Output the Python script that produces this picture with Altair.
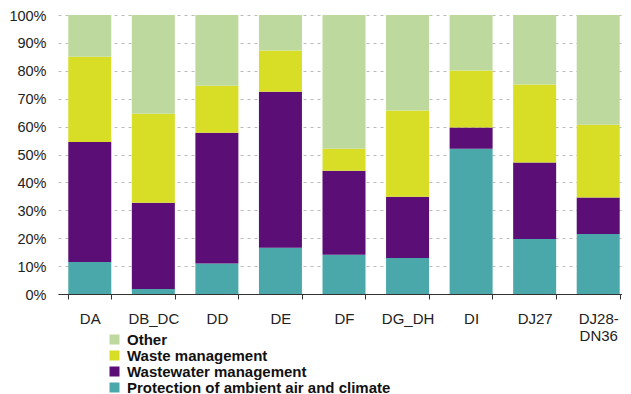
import altair as alt
import pandas as pd

categories = ["DA", "DB_DC", "DD", "DE", "DF", "DG_DH", "DI", "DJ27", "DJ28-DN36"]
series = ["Other", "Waste management", "Wastewater management",
          "Protection of ambient air and climate"]
air = [11.5, 1.8, 10.9, 16.6, 14.1, 12.9, 52.1, 19.7, 21.5]
wastewater = [43.0, 30.9, 46.9, 55.9, 30.1, 22.0, 7.6, 27.4, 13.1]
waste = [30.5, 31.9, 16.8, 14.8, 7.9, 30.9, 20.4, 28.0, 26.1]
other = [15.0, 35.4, 25.4, 12.7, 47.9, 34.2, 19.9, 24.9, 39.3]
colors = ["#BED99E", "#D8DD26", "#5B0E76", "#4AA8AB"]

rows = []
for vals, name, order in [(air, series[3], 0), (wastewater, series[2], 1),
                          (waste, series[1], 2), (other, series[0], 3)]:
    for c, v in zip(categories, vals):
        rows.append({"cat": c, "series": name, "value": v / 100.0, "ord": order})
df = pd.DataFrame(rows)

chart = alt.Chart(df).mark_bar(size=43).encode(
    x=alt.X("cat:N", sort=categories, title=None,
            axis=alt.Axis(labelAngle=0, tickBand="extent", domainColor="#333333",
                          tickColor="#333333", tickSize=5, labelPadding=12,
                          labelFont="Liberation Sans", labelFontSize=15,
                          labelColor="#222222", grid=False, labelLineHeight=17,
                          labelExpr="datum.label == 'DJ28-DN36' ? ['DJ28-', 'DN36'] : datum.label")),
    y=alt.Y("value:Q", stack="zero", title=None,
            scale=alt.Scale(domain=[0, 1], nice=False),
            axis=alt.Axis(format=".0%", values=[i / 10 for i in range(11)],
                          domain=False, ticks=False, labelPadding=12, labelOffset=1,
                          labelFont="Liberation Sans", labelFontSize=14.5,
                          labelColor="#222222", gridColor="#BBBBBB",
                          gridDash=[3, 4], gridWidth=1)),
    color=alt.Color("series:N", scale=alt.Scale(domain=series, range=colors),
                    legend=alt.Legend(title=None, orient="none", legendX=49, legendY=317,
                                      symbolType="square", symbolSize=100,
                                      symbolStrokeWidth=0, symbolOpacity=1,
                                      labelFont="Liberation Sans", labelFontSize=15,
                                      labelFontWeight="bold", labelColor="#111111",
                                      labelLimit=0, rowPadding=0, labelOffset=5)),
    order=alt.Order("ord:Q"),
).properties(
    width=572, height=279,
    padding={"top": 0, "left": 0, "right": -8, "bottom": 0},
).configure_view(stroke=None).configure_scale(bandPaddingInner=0.33, bandPaddingOuter=0.165)

chart.save("out.html", embed_options={"renderer": "svg", "actions": False})
